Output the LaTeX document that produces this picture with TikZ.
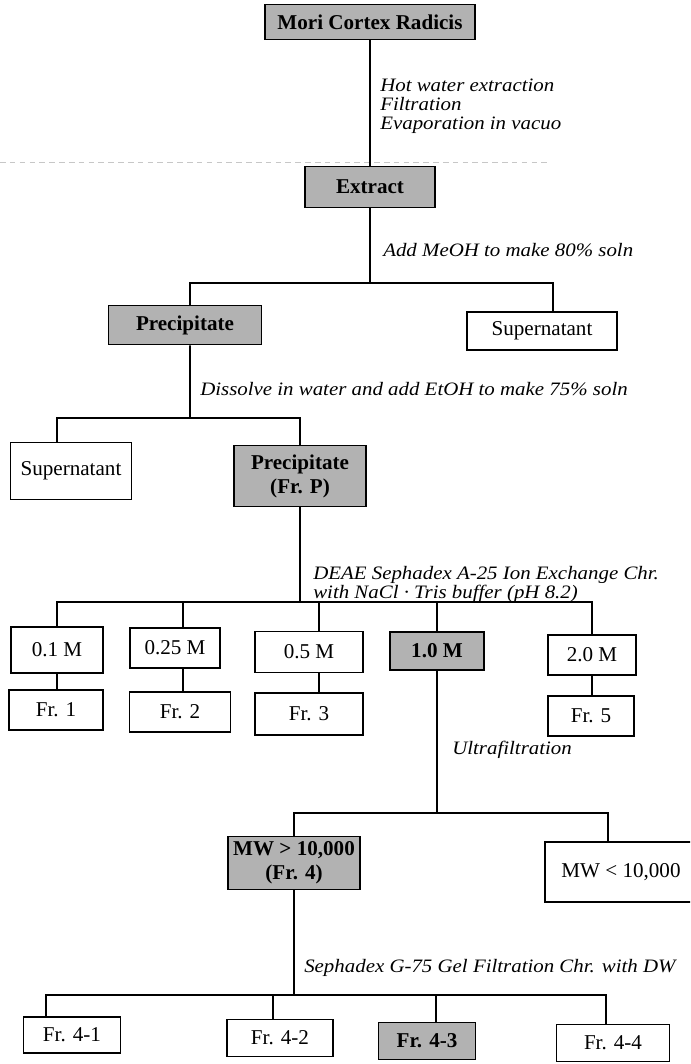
\documentclass[tikz,border=0pt]{standalone}
\usepackage{fontspec}
\setmainfont{Liberation Serif}
\newfontfamily\notefont{Liberation Serif}[FakeStretch=1.1]
\usepackage{tikz}
\usetikzlibrary{positioning,calc}

\begin{document}
\begin{tikzpicture}[x=0.025cm, y=-0.025cm,
          stage/.style={rectangle, draw, line width=1.2pt, inner sep=1pt, align=center, font=\fontsize{15}{17}\selectfont},
          shaded/.style={fill=black!30, font=\fontsize{15}{17}\selectfont\bfseries},
          note/.style={anchor=west, inner sep=0pt, align=left, font=\notefont\itshape\fontsize{13.5}{13.5}\selectfont},
          link/.style={line width=1.2pt}
        ]
          \useasboundingbox (0,0) rectangle (690,1064);
          \clip (0,0) rectangle (690,1064);

          % faint rule across the page
          \draw[black!22, line width=0.5pt, dash pattern=on 4pt off 3pt] (0,162) -- (550,162);

          % raw material and extract
          \node[stage, shaded, minimum width=5.25cm, minimum height=0.875cm] (mori) at (370,22) {Mori Cortex Radicis};
          \node[stage, shaded, minimum width=3.25cm, minimum height=1.025cm] (extract) at (370,187) {Extract};
          \node[note] (hotwater) at (380,106) {Hot water extraction\\Filtration\\Evaporation in vacuo};
          \draw[link] (mori) -- (extract);

          % MeOH step
          \node[stage, shaded, minimum width=3.825cm, minimum height=0.975cm] (prec) at (185,325) {Precipitate};
          \node[stage, minimum width=3.75cm, minimum height=0.95cm] (supA) at (542,331) {Supernatant};
          \node[note] (meoh) at (383,250) {Add MeOH to make 80\% soln};
          \coordinate (jA) at (370,283);
          \draw[link] (extract) -- (jA);
          \draw[link] ([xshift=0.125cm]prec.north) |- (jA) -| ([xshift=0.275cm]supA.north);

          % EtOH step
          \node[stage, minimum width=3.025cm, minimum height=1.425cm] (supB) at (71,471) {Supernatant};
          \node[stage, shaded, minimum width=3.3cm, minimum height=1.525cm] (precP) at (300,476) {Precipitate\\(Fr. P)};
          \node[note] (etoh) at (200,389) {Dissolve in water and add EtOH to make 75\% soln};
          \coordinate (jB) at (190,418);
          \draw[link] ([xshift=0.125cm]prec.south) -- (jB);
          \draw[link] ([xshift=-0.35cm]supB.north) |- (jB) -| (precP.north);

          % ion exchange
          \node[note] (deae) at (313,584) {DEAE Sephadex A-25 Ion Exchange Chr.\\with NaCl · Tris buffer (pH 8.2)};
          \node[stage, minimum width=2.3cm, minimum height=1.15cm] (mA) at (57,650) {0.1 M};
          \node[stage, minimum width=2.25cm, minimum height=1.0cm] (mB) at (175,648) {0.25 M};
          \node[stage, minimum width=2.7cm, minimum height=1.025cm] (mC) at (309,652) {0.5 M};
          \node[stage, shaded, minimum width=2.35cm, minimum height=0.95cm] (mD) at (437,651) {1.0 M};
          \node[stage, minimum width=2.2cm, minimum height=1.0cm] (mE) at (592,655) {2.0 M};
          \coordinate (jC) at (300,602);
          \draw[link] (precP) -- (jC);
          \draw[link] (mA.north) |- (jC) -| (mE.north);
          \draw[link] ([xshift=0.2cm]mB.north) -- ([xshift=0.2cm]mB.north |- jC);
          \draw[link] ([xshift=0.25cm]mC.north) -- ([xshift=0.25cm]mC.north |- jC);
          \draw[link] (mD.north) -- (mD.north |- jC);

          \node[stage, minimum width=2.35cm, minimum height=1.0cm] (frA) at (56,710) {Fr. 1};
          \node[stage, minimum width=2.525cm, minimum height=1.0cm] (frB) at (180,712) {Fr. 2};
          \node[stage, minimum width=2.7cm, minimum height=1.05cm] (frC) at (309,714) {Fr. 3};
          \node[stage, minimum width=2.15cm, minimum height=1.0cm] (frE) at (591,716) {Fr. 5};
          \draw[link] (mA.south) -- (mA.south |- frA.north);
          \draw[link] ([xshift=0.2cm]mB.south) -- ([xshift=0.2cm]mB.south |- frB.north);
          \draw[link] ([xshift=0.25cm]mC.south) -- ([xshift=0.25cm]mC.south |- frC.north);
          \draw[link] (mE.south) -- (mE.south |- frE.north);

          % ultrafiltration
          \node[note] (ultra) at (452,750) {Ultrafiltration};
          \node[stage, shaded, minimum width=3.3cm, minimum height=1.325cm] (mwHi) at (294,863) {MW > 10,000\\(Fr. 4)};
          \node[stage, minimum width=3.8cm, minimum height=1.5cm] (mwLo) at (621,872) {MW < 10,000};
          \coordinate (jD) at (437,813);
          \draw[link] (mD) -- (jD);
          \draw[link] (mwHi.north) |- (jD) -| ([xshift=-0.325cm]mwLo.north);

          % gel filtration
          \node[note] (gel) at (304,968) {Sephadex G-75 Gel Filtration Chr. with DW};
          \node[stage, minimum width=2.425cm, minimum height=0.9cm] (frG1) at (72,1035) {Fr. 4-1};
          \node[stage, minimum width=2.65cm, minimum height=0.925cm] (frG2) at (280,1038) {Fr. 4-2};
          \node[stage, shaded, minimum width=2.425cm, minimum height=0.925cm] (frG3) at (427,1041) {Fr. 4-3};
          \node[stage, minimum width=2.825cm, minimum height=0.925cm] (frG4) at (613,1043) {Fr. 4-4};
          \coordinate (jE) at (294,995);
          \draw[link] (mwHi) -- (jE);
          \draw[link] ([xshift=-0.65cm]frG1.north) |- (jE) -| ([xshift=-0.175cm]frG4.north);
          \draw[link] ([xshift=-0.175cm]frG2.north) -- ([xshift=-0.175cm]frG2.north |- jE);
          \draw[link] ([xshift=0.225cm]frG3.north) -- ([xshift=0.225cm]frG3.north |- jE);

        \end{tikzpicture}
\end{document}
